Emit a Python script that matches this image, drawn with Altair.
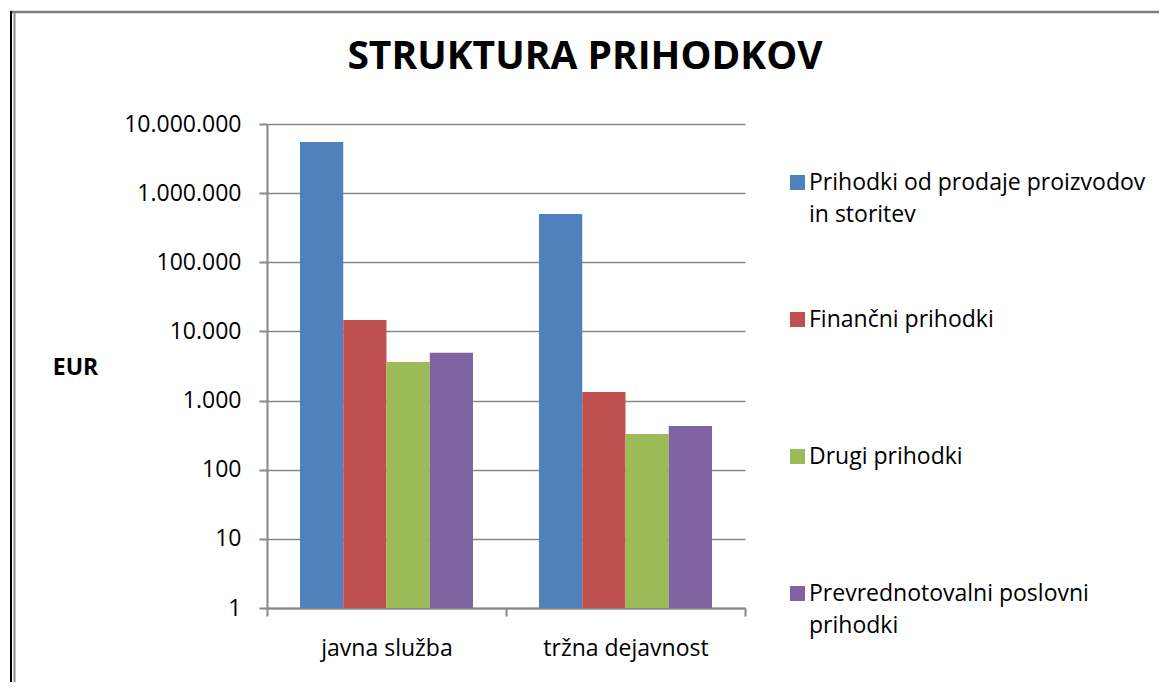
import altair as alt
import pandas as pd

categories = ["javna služba", "tržna dejavnost"]
series = [
    "Prihodki od prodaje proizvodov in storitev",
    "Finančni prihodki",
    "Drugi prihodki",
    "Prevrednotovalni poslovni prihodki",
]
colors = ["#4F81BD", "#C0504D", "#9BBB59", "#8064A2"]
values_javna = [5500000, 14600, 3600, 4900]
values_trzna = [500000, 1330, 328, 430]
y_ticks = [1, 10, 100, 1000, 10000, 100000, 1000000, 10000000]
axis_min = 1

rows = []
for s, vj, vt in zip(series, values_javna, values_trzna):
    rows.append({"kategorija": categories[0], "vrsta": s, "EUR": vj, "osnova": axis_min})
    rows.append({"kategorija": categories[1], "vrsta": s, "EUR": vt, "osnova": axis_min})
df = pd.DataFrame(rows)

FONT = "Open Sans"
GRID = "#868686"
FS = 23

legend_expr = (
    "datum.label == 'Prihodki od prodaje proizvodov in storitev' ? "
    "['Prihodki od prodaje proizvodov', 'in storitev'] : "
    "datum.label == 'Prevrednotovalni poslovni prihodki' ? "
    "['Prevrednotovalni poslovni', 'prihodki'] : [datum.label, '']"
)

bars = alt.Chart(df).mark_bar().encode(
    x=alt.X(
        "kategorija:N",
        sort=categories,
        scale=alt.Scale(paddingInner=0, paddingOuter=0),
        axis=alt.Axis(
            title=None, labelAngle=0, tickBand="extent", grid=False,
            domainColor=GRID, domainWidth=2, tickColor=GRID, tickWidth=2,
            tickSize=8, labelFontSize=FS, labelFont=FONT, labelColor="black",
            labelPadding=21,
        ),
    ),
    xOffset=alt.XOffset(
        "vrsta:N", sort=series,
        scale=alt.Scale(paddingInner=0, paddingOuter=0.763),
    ),
    y=alt.Y(
        "EUR:Q",
        scale=alt.Scale(type="log", domain=[1, 10000000], nice=False),
        axis=alt.Axis(
            values=y_ticks,
            labelExpr="replace(format(datum.value, ','), regexp(',', 'g'), '.')",
            title="EUR", titleAngle=0, titleX=-192, titleY=243,
            titleAlign="center", titleBaseline="middle", titleFontSize=FS,
            titleFontWeight="bold", titleFont=FONT, titleColor="black",
            labelFontSize=FS, labelFont=FONT, labelColor="black", labelPadding=18,
            tickSize=8, tickColor=GRID, tickWidth=2, domainColor=GRID,
            domainWidth=2, gridColor=GRID, gridWidth=1.5,
        ),
    ),
    y2=alt.Y2("osnova:Q"),
    color=alt.Color(
        "vrsta:N", sort=series,
        scale=alt.Scale(domain=series, range=colors),
        legend=alt.Legend(
            title=None, orient="none", legendX=519, legendY=47, padding=0,
            symbolType="square", symbolSize=225, symbolStrokeWidth=0,
            symbolOpacity=1, labelFontSize=FS, labelFont=FONT,
            labelColor="black", labelOffset=0, labelLimit=500,
            labelExpr=legend_expr, rowPadding=81,
        ),
    ),
)

frame_df = pd.DataFrame({"k": [0]})
frame_top = alt.Chart(frame_df).mark_rule(color="#7f7f7f", strokeWidth=2.5).encode(
    x=alt.value(-257), x2=alt.value(900), y=alt.value(-112)
)
frame_left_black = alt.Chart(frame_df).mark_rule(color="#000000", strokeWidth=2).encode(
    x=alt.value(-256), y=alt.value(-113), y2=alt.value(600)
)
frame_left_gray = alt.Chart(frame_df).mark_rule(color="#8a8a8a", strokeWidth=2).encode(
    x=alt.value(-252.5), y=alt.value(-111), y2=alt.value(600)
)

chart = alt.layer(bars, frame_top, frame_left_black, frame_left_gray).properties(
    width=478,
    height=484,
    title=alt.TitleParams(
        "STRUKTURA PRIHODKOV", fontSize=39, font=FONT, fontWeight="bold",
        color="black", anchor="middle", dx=79, dy=98, offset=0,
        baseline="alphabetic",
    ),
    autosize=alt.AutoSizeParams(type="none"),
    padding={"left": 259, "top": 116, "right": 414, "bottom": 74},
).configure(
    background="white",
    style={"guide-label": {"lineHeight": 32}},
).configure_view(stroke=None)

chart.save("out.html", embed_options={"renderer": "svg", "actions": False})
